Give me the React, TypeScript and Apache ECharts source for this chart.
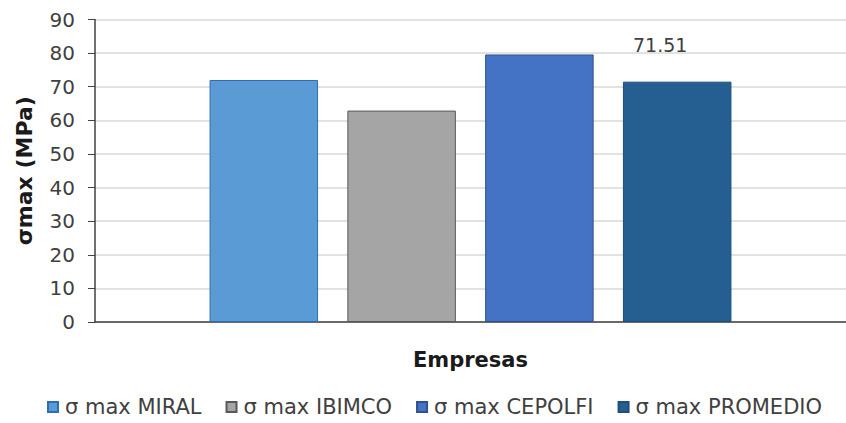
import React, { useEffect, useRef } from "react";
import * as echarts from "echarts";

const categories = [""];
const seriesNames = ["σ max MIRAL", "σ max IBIMCO", "σ max CEPOLFI", "σ max PROMEDIO"];
const seriesValues = [72.0, 62.9, 79.6, 71.51];
const fillColors = ["#5B9BD5", "#A5A5A5", "#4472C4", "#255E91"];
const borderColors = ["#2E6DB4", "#595959", "#2F528F", "#1F4E79"];
const showLabel = [false, false, false, true];
const yTicks = { min: 0, max: 90, interval: 10 };

const FONT = "DejaVu Sans, Liberation Sans, Arial, sans-serif";

export default function App() {
  const ref = useRef<HTMLDivElement>(null);
  useEffect(() => {
    document.body.style.margin = "0";
    const chart = echarts.init(ref.current!, null, { renderer: "svg" });
    chart.setOption({
      animation: false,
      backgroundColor: "#ffffff",
      textStyle: { fontFamily: FONT },
      grid: { left: 95, top: 19.5, width: 763, height: 302.5, containLabel: false },
      legend: {
        top: 391,
        left: 42,
        itemWidth: 10,
        itemHeight: 10,
        itemGap: 24,
        icon: "rect",
        textStyle: { fontSize: 21, lineHeight: 22, color: "#404040", fontFamily: FONT, padding: [0, 0, 0, 2] },
        data: seriesNames,
      },
      xAxis: {
        type: "category",
        data: categories,
        name: "Empresas",
        nameLocation: "middle",
        nameGap: 27,
        nameTextStyle: { fontSize: 21, fontWeight: "bold", color: "#1a1a1a", fontFamily: FONT },
        axisLine: { lineStyle: { color: "#404040", width: 1.5 } },
        axisTick: { show: false },
        axisLabel: { show: false },
      },
      yAxis: {
        type: "value",
        min: yTicks.min,
        max: yTicks.max,
        interval: yTicks.interval,
        name: "σmax (MPa)",
        nameLocation: "middle",
        nameGap: 60,
        nameTextStyle: { fontSize: 22, fontWeight: "bold", color: "#1a1a1a", fontFamily: FONT },
        axisLine: { show: true, lineStyle: { color: "#404040", width: 1.5 } },
        axisTick: { show: true, length: 7, lineStyle: { color: "#404040" } },
        axisLabel: { fontSize: 20, color: "#404040", margin: 20, fontFamily: FONT },
        splitLine: { lineStyle: { color: "#d9d9d9", width: 1.5 } },
      },
      series: seriesNames.map((name, i) => ({
        name,
        type: "bar",
        data: [seriesValues[i]],
        barWidth: 108.5,
        barGap: "27%",
        itemStyle: { color: fillColors[i], borderColor: borderColors[i], borderWidth: 1 },
        label: {
          show: showLabel[i],
          position: "top",
          offset: [-17, -22],
          fontSize: 19,
          color: "#404040",
          fontFamily: FONT,
          formatter: (p: any) => p.value.toFixed(2),
        },
      })),
    });
    return () => chart.dispose();
  }, []);
  return <div ref={ref} style={{ width: 846, height: 423 }} />;
}
